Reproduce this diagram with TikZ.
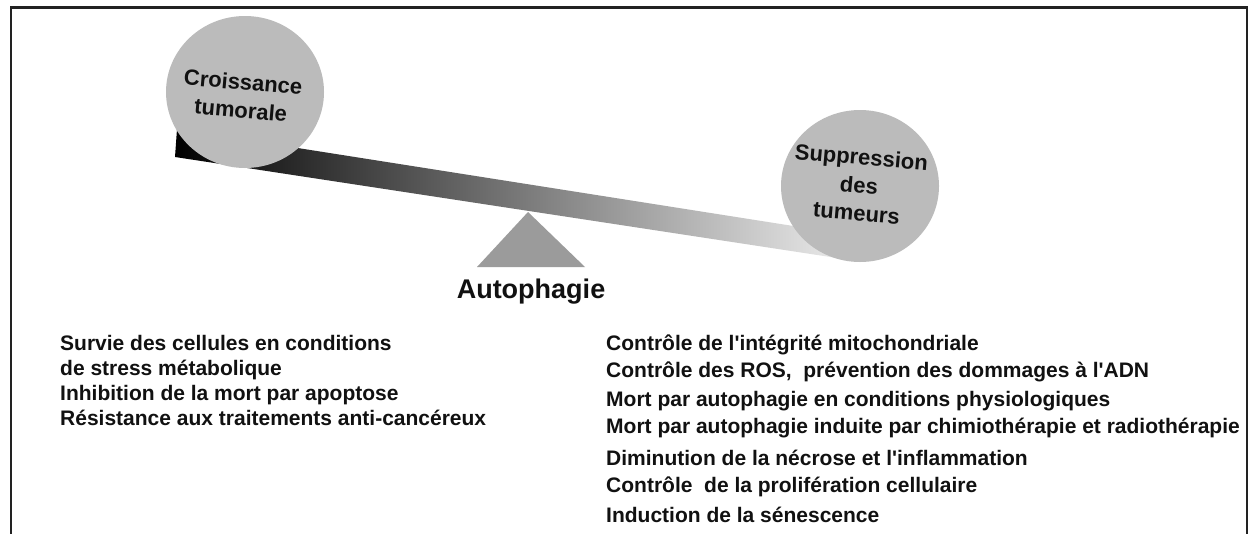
\documentclass[tikz,border=0pt]{standalone}
\usepackage{fontspec}
\setmainfont{Liberation Sans}[Ligatures=TeXOff]
\usetikzlibrary{shapes.geometric}
\definecolor{ballgray}{HTML}{BBBBBB}
\definecolor{fulcgray}{HTML}{9B9B9B}
\definecolor{txt}{HTML}{111111}
\definecolor{framec}{HTML}{222222}
\begin{document}
\begin{tikzpicture}[x=1pt,y=-1pt,
  ball/.style={ellipse, fill=ballgray, minimum width=158pt, minimum height=152pt, inner sep=0pt},
  balltext/.style={font=\fontsize{22}{28}\selectfont\bfseries, align=center, text=txt, inner sep=0pt},
  item/.style={anchor=base west, font=\fontsize{21}{24}\selectfont\bfseries, inner sep=0pt, text=txt},
  title/.style={anchor=base, font=\fontsize{27}{30}\selectfont\bfseries, inner sep=0pt, text=txt}]
\useasboundingbox (0,0) rectangle (1249,533);
\fill[white] (0,0) rectangle (1249,533);
% frame
\draw[framec, line width=2.6pt] (11,545) -- (11,7.5) -- (1247,7.5) -- (1247,545);
% fulcrum
\fill[fulcgray] (528,212) -- (585,267) -- (477,267) -- cycle;
% beam
\shade[left color=black, right color=black!6] (177,129) -- (860,236.5) -- (860,261.5) -- (175,157) -- cycle;
% balls
\node[ball] (growth) at (245,92) {};
\node[balltext, rotate=-5] (growthtxt) at (242,96) {Croissance\\tumorale};
\node[ball] (suppr) at (860,186) {};
\node[balltext, rotate=-5] (supprtxt) at (859,185) {Suppression\\des\\tumeurs};
% title
\node[title] (autoph) at (531,298) {Autophagie};
% left list
\node[item] (l1) at (60,350) {Survie des cellules en conditions};
\node[item] (l2) at (60,375) {de stress métabolique};
\node[item] (l3) at (60,400) {Inhibition de la mort par apoptose};
\node[item] (l4) at (60,425) {Résistance aux traitements anti-cancéreux};
% right list
\node[item] (r1) at (606,350) {Contrôle de l'intégrité mitochondriale};
\node[item] (r2) at (606,377) {Contrôle des ROS,\ \ prévention des dommages à l'ADN};
\node[item] (r3) at (606,406) {Mort par autophagie en conditions physiologiques};
\node[item] (r4) at (606,433) {Mort par autophagie induite par chimiothérapie et radiothérapie};
\node[item] (r5) at (606,465) {Diminution de la nécrose et l'inflammation};
\node[item] (r6) at (606,492) {Contrôle\ \ de la prolifération cellulaire};
\node[item] (r7) at (606,522) {Induction de la sénescence};
\end{tikzpicture}
\end{document}
